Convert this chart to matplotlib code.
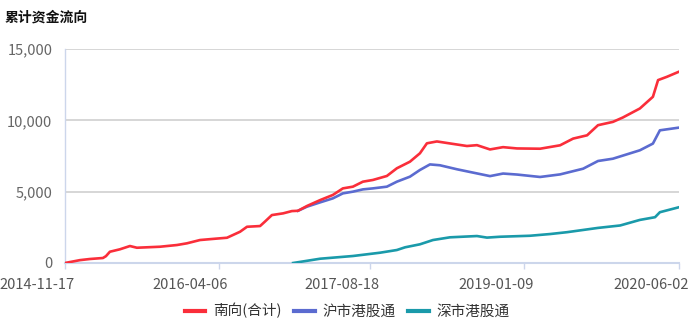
import matplotlib
matplotlib.use("Agg")
import matplotlib.pyplot as plt
import matplotlib.transforms as mtransforms
from matplotlib.ticker import FuncFormatter
import pandas as pd

plt.rcParams['font.family'] = ['Noto Sans CJK SC', 'DejaVu Sans']

# 南向(合计) cumulative flow
south_dates = ['2014-11-17', '2015-01-05', '2015-02-07', '2015-03-22', '2015-04-01',
               '2015-04-14', '2015-05-17', '2015-06-19', '2015-07-12', '2015-09-26',
               '2015-11-21', '2015-12-24', '2016-02-05', '2016-03-25', '2016-05-04',
               '2016-06-16', '2016-07-09', '2016-08-21', '2016-09-06', '2016-09-29',
               '2016-11-05', '2016-12-04', '2016-12-24', '2017-01-23', '2017-03-07',
               '2017-04-18', '2017-05-21', '2017-06-23', '2017-07-26', '2017-08-28',
               '2017-10-13', '2017-11-15', '2017-12-28', '2018-01-30', '2018-02-22',
               '2018-03-27', '2018-05-09', '2018-07-04', '2018-08-06', '2018-09-18',
               '2018-10-31', '2018-12-16', '2019-03-02', '2019-05-07', '2019-06-19',
               '2019-08-04', '2019-09-09', '2019-10-28', '2019-11-30', '2020-01-25',
               '2020-03-08', '2020-03-25', '2020-04-23', '2020-06-02']
south_values = [0, 200, 280, 350, 480, 790, 960, 1190, 1070, 1140,
                1260, 1380, 1610, 1700, 1770, 2190, 2540, 2590, 2900, 3360,
                3480, 3640, 3660, 4000, 4410, 4770, 5230, 5350, 5700, 5820,
                6100, 6640, 7100, 7690, 8390, 8520, 8380, 8200, 8260, 7960,
                8120, 8030, 8010, 8250, 8720, 8950, 9660, 9890, 10200, 10830,
                11650, 12820, 13050, 13410]

# 沪市港股通
sh_dates = ['2016-12-24', '2017-01-23', '2017-03-07', '2017-04-18', '2017-05-21',
            '2017-06-23', '2017-07-26', '2017-08-28', '2017-10-13', '2017-11-15',
            '2017-12-28', '2018-01-30', '2018-03-04', '2018-04-06', '2018-06-01',
            '2018-07-14', '2018-09-18', '2018-10-31', '2018-12-16', '2019-03-02',
            '2019-05-07', '2019-07-22', '2019-09-09', '2019-10-28', '2020-01-25',
            '2020-03-08', '2020-03-31', '2020-06-02']
sh_values = [3660, 3950, 4250, 4530, 4880, 5000, 5160, 5230, 5350, 5700,
             6050, 6520, 6910, 6850, 6570, 6380, 6090, 6270, 6200, 6030,
             6210, 6610, 7150, 7310, 7900, 8370, 9300, 9490]

# 深市港股通
sz_dates = ['2016-12-08', '2017-03-07', '2017-06-23', '2017-09-20', '2017-11-15',
            '2017-12-12', '2018-01-30', '2018-03-14', '2018-05-09', '2018-08-06',
            '2018-09-08', '2018-10-21', '2019-01-28', '2019-04-04', '2019-05-30',
            '2019-09-09', '2019-11-21', '2020-01-25', '2020-03-15', '2020-03-31',
            '2020-06-02']
sz_values = [0, 300, 490, 720, 910, 1100, 1310, 1610, 1800, 1890,
             1780, 1840, 1910, 2030, 2160, 2460, 2630, 3020, 3210, 3560,
             3910]

tick_dates = ['2014-11-17', '2016-04-06', '2017-08-18', '2019-01-09', '2020-06-02']

RED = '#fa2e3a'
BLUE = '#5b6bd0'
TEAL = '#1a9aaa'
AXIS = '#ccd6eb'

fig = plt.figure(figsize=(6.88, 3.31), dpi=100)
ax = fig.add_axes([65 / 688, 1 - 263 / 331, 614 / 688, 214 / 331])

ax.plot(pd.to_datetime(sh_dates), sh_values, color=BLUE, lw=1.9, label='沪市港股通', zorder=3)
ax.plot(pd.to_datetime(sz_dates), sz_values, color=TEAL, lw=1.9, label='深市港股通', zorder=3)
ax.plot(pd.to_datetime(south_dates), south_values, color=RED, lw=1.9, label='南向(合计)', zorder=4)

ticks = pd.to_datetime(tick_dates)
ax.set_xlim(ticks[0], ticks[-1])
ax.set_ylim(0, 15000)
ax.set_yticks([0, 5000, 10000, 15000])
ax.yaxis.set_major_formatter(FuncFormatter(lambda v, p: f'{int(v):,}'))
ax.set_xticks(ticks)
ax.set_xticklabels(tick_dates)

for y in [5000, 10000, 15000]:
    ax.axhline(y, color='#cccccc', lw=1.1, zorder=1)

for s in ['top', 'right']:
    ax.spines[s].set_visible(False)
ax.spines['left'].set_color(AXIS)
ax.spines['bottom'].set_color(AXIS)
ax.spines['bottom'].set_linewidth(1.5)
ax.spines['left'].set_linewidth(1.0)

ax.tick_params(axis='x', length=4.5, width=1, color=AXIS, labelsize=10.5,
               labelcolor='#555555', pad=6)
ax.tick_params(axis='y', length=0, labelsize=10.5, labelcolor='#666666', pad=9)

# x labels sit left of their tick marks
shift = mtransforms.ScaledTranslation(-28 / 100, 0, fig.dpi_scale_trans)
for lab in ax.get_xticklabels():
    lab.set_transform(lab.get_transform() + shift)

fig.text(5 / 688, 1 - 18 / 331, '累计资金流向', fontsize=10, fontweight='bold',
         color='#111111', ha='left', va='center')

handles, labels = ax.get_legend_handles_labels()
order = [2, 0, 1]
leg = fig.legend([handles[i] for i in order], [labels[i] for i in order],
                 loc='center', bbox_to_anchor=(347 / 688, 1 - 311 / 331), ncol=3,
                 frameon=False, fontsize=10.5, handlelength=1.4, handletextpad=0.5,
                 columnspacing=0.9)
for line in leg.get_lines():
    line.set_linewidth(3)
for t in leg.get_texts():
    t.set_color('#333333')

fig.savefig('out.png', dpi=100)
